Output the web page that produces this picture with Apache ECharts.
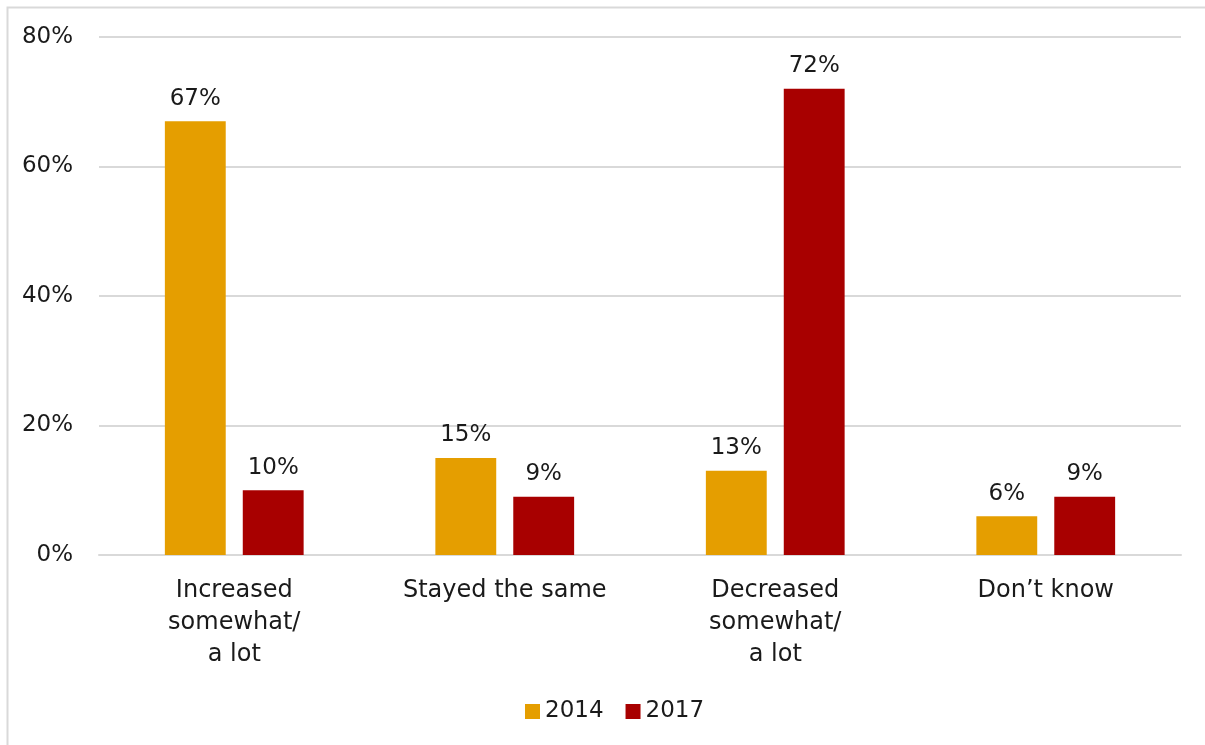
<!DOCTYPE html>
<html>
<head>
<meta charset="utf-8">
<script src="https://cdn.jsdelivr.net/npm/echarts@6/dist/echarts.min.js"></script>
<style>
html,body{margin:0;padding:0;background:#fff;}
#c{width:1205px;height:745px;}
</style>
</head>
<body>
<div id="c"></div>
<script>
const categories = ["Increased\nsomewhat/\na lot", "Stayed the same", "Decreased\nsomewhat/\na lot", "Don\u2019t know"];
const seriesNames = ["2014", "2017"];
const values2014 = [67, 15, 13, 6];
const values2017 = [10, 9, 72, 9];
const yTicks = [0, 20, 40, 60, 80];

const FONT = "DejaVu Sans";
const TXT = '#1a1a1a';
const chart = echarts.init(document.getElementById('c'));
chart.setOption({
  animation: false,
  backgroundColor: '#fff',
  graphic: [{
    type: 'rect', left: 5, top: 5,
    shape: {width: 1300, height: 800},
    style: {fill: 'none', stroke: '#d9d9d9', lineWidth: 2},
    silent: true
  }],
  grid: {left: 99, right: 24, top: 37, bottom: 190, containLabel: false},
  legend: {
    data: seriesNames,
    bottom: 17,
    left: 520,
    itemWidth: 15, itemHeight: 15, itemGap: 22,
    icon: 'rect',
    textStyle: {fontFamily: FONT, fontSize: 23, color: TXT}
  },
  xAxis: {
    type: 'category',
    data: categories,
    axisLine: {show: true, lineStyle: {color: '#d9d9d9', width: 2}},
    axisTick: {show: false},
    axisLabel: {fontFamily: FONT, fontSize: 24, color: TXT, lineHeight: 32, margin: 20, interval: 0}
  },
  yAxis: {
    type: 'value',
    min: yTicks[0], max: yTicks[yTicks.length - 1], interval: 20,
    axisLine: {show: false},
    axisTick: {show: false},
    splitLine: {lineStyle: {color: '#d9d9d9', width: 2}},
    axisLabel: {fontFamily: FONT, fontSize: 23, color: TXT, margin: 26, formatter: v => v + '%'}
  },
  series: [
    {
      name: seriesNames[0], type: 'bar', data: values2014,
      barWidth: '22.5%', barGap: '28%',
      itemStyle: {color: '#E59E00'},
      label: {show: true, position: 'top', distance: 11, fontFamily: FONT, fontSize: 23, color: TXT, formatter: p => p.value + '%'}
    },
    {
      name: seriesNames[1], type: 'bar', data: values2017,
      barWidth: '22.5%', barGap: '28%',
      itemStyle: {color: '#A80000'},
      label: {show: true, position: 'top', distance: 11, fontFamily: FONT, fontSize: 23, color: TXT, formatter: p => p.value + '%'}
    }
  ]
});
</script>
</body>
</html>
